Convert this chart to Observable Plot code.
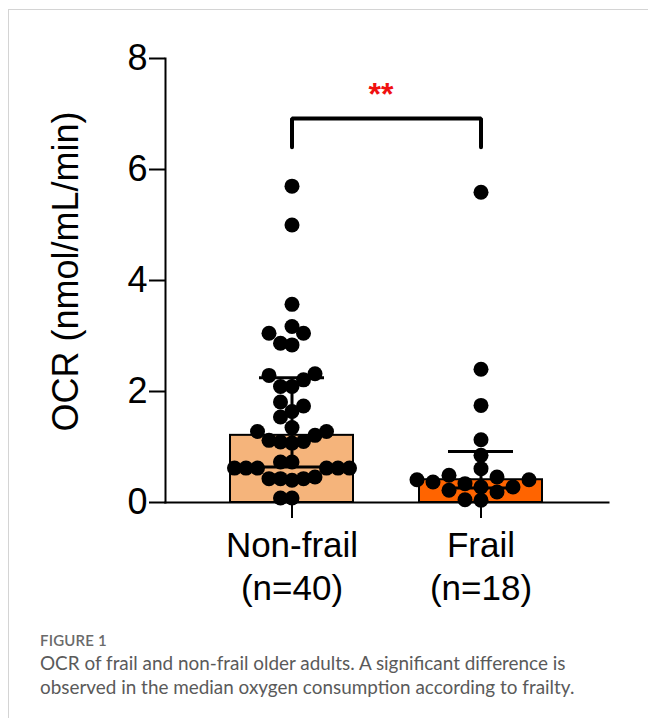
<!DOCTYPE html>
<html>
<head>
<meta charset="utf-8">
<script src="https://cdn.jsdelivr.net/npm/d3@7"></script>
<script src="https://cdn.jsdelivr.net/npm/@observablehq/plot@0.6"></script>
<style>
  html, body { margin: 0; padding: 0; background: #fff; overflow: hidden; width: 648px; height: 718px; }
  #card { position: absolute; left: 8px; top: 9px; width: 700px; height: 800px;
          border-left: 1px solid #d4d4d4; border-top: 1px solid #d4d4d4; box-sizing: border-box; }
  #chart { position: absolute; left: 0; top: 0; }
  #caption { position: absolute; left: 40px; top: 629px; width: 605px; font-family: Lato, "Open Sans", sans-serif; color: #5a5a5a; white-space: nowrap; }
  #caption .fig { font-size: 15px; line-height: 22px; color: #6a6a6a; font-weight: 600; letter-spacing: 0.2px; }
  #caption .txt { font-size: 18.9px; line-height: 24px; }
</style>
</head>
<body>
<div id="card"></div>
<div id="chart"></div>
<div id="caption">
  <div class="fig">FIGURE 1</div>
  <div class="txt">OCR of frail and non-frail older adults. A significant difference is<br>observed in the median oxygen consumption according to frailty.</div>
</div>
<script>
// ---- data ----
const groups = ["Non-frail", "Frail"];
const nonFrailOCR = [5.70, 5.00, 3.57, 3.17, 3.05, 3.05, 2.84, 2.87, 2.32, 2.29,
                     2.21, 2.09, 2.09, 1.81, 1.74, 1.64, 1.54, 1.35, 1.28, 1.21,
                     1.28, 1.09, 1.12, 1.07, 1.10, 0.73, 0.73, 0.62, 0.62, 0.62,
                     0.62, 0.62, 0.62, 0.46, 0.43, 0.40, 0.43, 0.43, 0.08, 0.08];
const frailOCR = [5.59, 2.40, 1.75, 1.13, 0.85, 0.61, 0.49, 0.46, 0.41, 0.41,
                  0.37, 0.34, 0.28, 0.28, 0.22, 0.19, 0.05, 0.04];
const medians = [1.21, 0.41];
const q1 = [0.64, 0.26];
const q3 = [2.25, 0.92];
const yTicks = [0, 2, 4, 6, 8];
const yLabel = "OCR (nmol/mL/min)";
const sigLabel = "**";
const bracketLevels = [6.40, 6.92];

// ---- styling ----
const barColors = ["#F5B47B", "#FF6400"];
const dotRadius = 7.5;
const dotSpacing = {"Non-frail": 11.5, "Frail": 16};
const rowGap = 13;
const font = "'Liberation Sans', Arial, Helvetica, sans-serif";

// ---- tables built from the arrays ----
const points = [
  ...nonFrailOCR.map(v => ({group: groups[0], value: v})),
  ...frailOCR.map(v => ({group: groups[1], value: v}))
];
const counts = new Map(groups.map(g => [g, points.filter(p => p.group === g).length]));
const summary = groups.map((g, i) => ({group: g, median: medians[i], q1: q1[i], q3: q3[i]}));
const bracket = [
  {group: groups[0], y: bracketLevels[0]},
  {group: groups[0], y: bracketLevels[1]},
  {group: groups[1], y: bracketLevels[1]},
  {group: groups[1], y: bracketLevels[0]}
];

// GraphPad-like scatter layout: each point takes the slot closest to the
// column centre that is not already used by a point at a similar height.
const swarm = Plot.initializer(
  {x: "group", y: "value", r: dotRadius, fill: "black"},
  (data, facets, channels, scales) => {
    const G = channels.x.value, V = channels.y.value;
    const X = new Float64Array(G.length), Y = new Float64Array(G.length);
    for (const I of facets) {
      const byGroup = d3.group(I, i => G[i]);
      for (const [g, idx] of byGroup) {
        const cx = scales.x(g);
        const s = dotSpacing[g];
        const placed = [];
        const order = Array.from(idx).sort((a, b) => V[a] - V[b]);
        for (const i of order) {
          const y = scales.y(V[i]);
          Y[i] = y;
          for (let k = 0; ; k++) {
            const slot = k === 0 ? 0 : (k % 2 ? -Math.ceil(k / 2) : k / 2);
            if (!placed.some(p => p.slot === slot && Math.abs(p.y - y) < rowGap)) {
              X[i] = cx + slot * s;
              placed.push({slot, y});
              break;
            }
          }
        }
      }
    }
    return {data, facets, channels: {x: {value: X}, y: {value: Y}}};
  }
);

const chart = Plot.plot({
  width: 648,
  height: 620,
  marginLeft: 165,
  marginRight: 40,
  marginTop: 58,
  marginBottom: 118,
  style: {background: "transparent", fontFamily: font, color: "black"},
  x: {domain: groups, paddingInner: 0.347, paddingOuter: 0.342},
  y: {domain: [0, 8]},
  color: {domain: groups, range: barColors},
  marks: [
    Plot.barY(summary, {x: "group", y: "median", fill: "group", stroke: "black", strokeWidth: 2}),
    Plot.ruleX(summary, {x: "group", y1: "q1", y2: "q3", stroke: "black", strokeWidth: 3}),
    Plot.tickY(summary, {x: "group", y: "q1", insetLeft: 29, insetRight: 29, stroke: "black", strokeWidth: 3}),
    Plot.tickY(summary, {x: "group", y: "q3", insetLeft: 29, insetRight: 29, stroke: "black", strokeWidth: 3}),
    Plot.dot(points, swarm),
    Plot.frame({anchor: "left", stroke: "black", strokeWidth: 2}),
    Plot.frame({anchor: "bottom", stroke: "black", strokeWidth: 2}),
    Plot.axisY({ticks: yTicks, tickSize: 16, tickPadding: 2, fontSize: 36, strokeWidth: 2, label: null}),
    Plot.axisX({tickSize: 16, tickPadding: 7, fontSize: 35, lineHeight: 1.25, strokeWidth: 2,
                tickFormat: g => `${g}\n(n=${counts.get(g)})`, label: null}),
    Plot.text([yLabel], {text: d => d, frameAnchor: "left", textAnchor: "middle", rotate: -90, dx: -99, dy: -9, fontSize: 36}),
    Plot.line(bracket, {x: "group", y: "y", stroke: "black", strokeWidth: 4, strokeLinejoin: "miter"}),
    Plot.text([sigLabel], {text: d => d, frameAnchor: "top", dy: 24, dx: -6, fontSize: 32, fontWeight: "bold", fill: "#f01010"})
  ]
});
document.getElementById("chart").appendChild(chart);
</script>
</body>
</html>
